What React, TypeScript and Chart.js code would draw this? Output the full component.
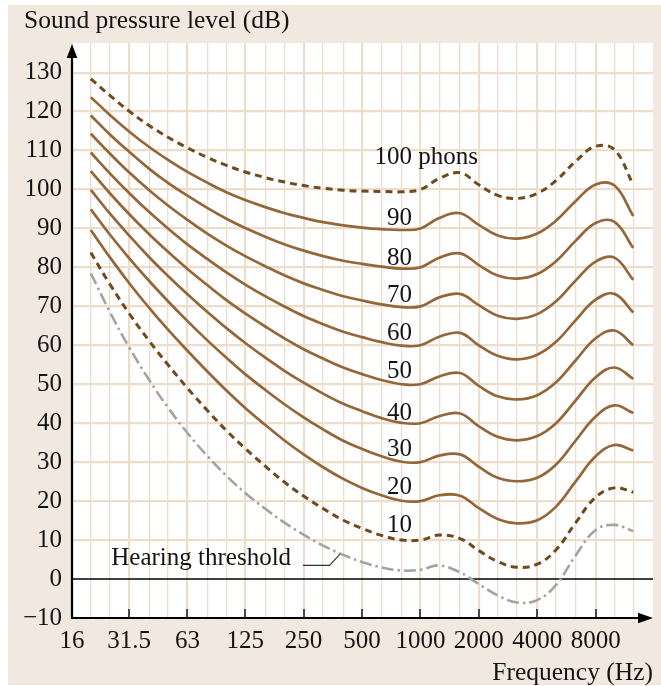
import { useEffect, useRef } from 'react';
import { Chart, registerables } from 'chart.js';

Chart.register(...registerables);

// Frequencies (Hz) of the data points (third-octave bands)
const frequencies = [20, 25, 31.5, 40, 50, 63, 80, 100, 125, 160, 200, 250, 315, 400, 500, 630, 800, 1000, 1250, 1600, 2000, 2500, 3150, 4000, 5000, 6300, 8000, 10000, 12500];

// Equal-loudness contours (dB SPL)
const phon100 = [128.4, 124.2, 120.1, 116.4, 113.4, 110.7, 108.2, 106.2, 104.5, 103.0, 101.9, 101.0, 100.3, 99.8, 99.6, 99.5, 99.4, 100.0, 102.8, 104.3, 101.2, 98.5, 97.7, 99.0, 102.3, 107.2, 111.1, 110.2, 101.2];
const phon90 = [123.7, 119.2, 114.9, 110.9, 107.6, 104.5, 101.7, 99.3, 97.3, 95.4, 93.9, 92.7, 91.6, 90.8, 90.2, 89.8, 89.6, 90.0, 92.7, 93.9, 90.9, 88.2, 87.4, 88.7, 92.0, 97.0, 101.3, 101.0, 93.2];
const phon80 = [119.0, 114.2, 109.7, 105.3, 101.7, 98.4, 95.2, 92.5, 90.1, 87.8, 85.9, 84.3, 82.9, 81.7, 80.9, 80.2, 79.7, 80.0, 82.5, 83.6, 80.6, 77.9, 77.1, 78.3, 81.6, 86.8, 91.4, 91.7, 85.0];
const phon70 = [114.3, 109.3, 104.4, 99.8, 95.9, 92.2, 88.6, 85.6, 82.9, 80.2, 77.9, 75.9, 74.2, 72.6, 71.5, 70.5, 69.8, 70.0, 72.3, 73.2, 70.3, 67.6, 66.8, 68.0, 71.3, 76.6, 81.5, 82.5, 76.8];
const phon60 = [109.5, 104.2, 99.1, 94.2, 90.0, 85.9, 82.1, 78.7, 75.6, 72.5, 69.9, 67.5, 65.4, 63.5, 62.1, 60.8, 59.9, 60.0, 62.2, 63.2, 60.0, 57.3, 56.4, 57.6, 60.9, 66.4, 71.7, 73.2, 68.4];
const phon50 = [104.7, 99.1, 93.7, 88.5, 84.0, 79.6, 75.4, 71.6, 68.2, 64.7, 61.7, 59.0, 56.6, 54.3, 52.6, 51.1, 50.0, 50.0, 52.0, 52.9, 49.6, 46.9, 46.1, 47.2, 50.5, 56.1, 61.8, 63.8, 60.0];
const phon40 = [99.9, 93.9, 88.2, 82.6, 77.8, 73.1, 68.5, 64.4, 60.6, 56.7, 53.4, 50.4, 47.6, 45.0, 43.1, 41.3, 40.1, 40.0, 41.8, 42.5, 39.2, 36.5, 35.6, 36.7, 40.0, 45.8, 51.8, 54.3, 51.4];
const phon30 = [94.9, 88.5, 82.4, 76.5, 71.3, 66.2, 61.2, 56.8, 52.6, 48.4, 44.8, 41.5, 38.4, 35.5, 33.4, 31.5, 30.1, 30.0, 31.7, 32.0, 28.8, 26.0, 25.1, 26.0, 29.4, 35.5, 41.7, 44.6, 42.6];
const phon20 = [89.6, 82.7, 76.0, 69.6, 64.0, 58.6, 53.2, 48.4, 43.9, 39.4, 35.5, 32.0, 28.7, 25.7, 23.4, 21.5, 20.1, 20.0, 21.5, 21.4, 18.2, 15.4, 14.3, 15.1, 18.6, 25.0, 31.5, 34.4, 33.0];
const phon10 = [83.8, 75.8, 68.2, 61.1, 55.0, 49.0, 43.2, 38.1, 33.5, 28.8, 24.8, 21.3, 18.1, 15.1, 13.0, 11.2, 10.0, 10.0, 11.3, 10.4, 7.3, 4.5, 3.0, 3.8, 7.5, 14.4, 21.0, 23.4, 22.3];
const hearingThreshold = [78.5, 68.7, 59.5, 51.1, 44.0, 37.5, 31.5, 26.5, 22.1, 17.9, 14.4, 11.4, 8.6, 6.2, 4.4, 3.0, 2.2, 2.4, 3.5, 1.7, -1.3, -4.2, -6.0, -5.4, -1.5, 6.0, 12.6, 13.9, 12.3];

// Axis ticks
const xGridValues = [16, 20, 25, 31.5, 40, 50, 63, 80, 100, 125, 160, 200, 250, 315, 400, 500, 630, 800, 1000, 1250, 1600, 2000, 2500, 3150, 4000, 5000, 6300, 8000, 10000, 12500];
const xTickLabels = ['16', '31.5', '63', '125', '250', '500', '1000', '2000', '4000', '8000'];
const yTickValues = [-10, 0, 10, 20, 30, 40, 50, 60, 70, 80, 90, 100, 110, 120, 130];

// Curve labels
const curveLabels = ['100', '90', '80', '70', '60', '50', '40', '30', '20', '10'];
const curveLabelDb = [108.6, 93.0, 82.9, 73.4, 63.6, 53.8, 43.1, 33.7, 24.0, 14.2];
const curveLabelFreq = 905;

const FONT = '"Liberation Serif", "Times New Roman", serif';
const TEXT = '#141414';
const SOLID = '#93673a';
const DASHED = '#6e4a1c';
const GRID = '#ecdecb';
const PANEL = '#f1e9df';
const FS = 25;

export default function App() {
  const ref = useRef<HTMLCanvasElement | null>(null);

  useEffect(() => {
    const canvas = ref.current;
    if (!canvas) return;

    const series = [
      { v: phon100, dash: true },
      { v: phon90 }, { v: phon80 }, { v: phon70 }, { v: phon60 }, { v: phon50 },
      { v: phon40 }, { v: phon30 }, { v: phon20 },
      { v: phon10, dash: true },
    ];

    const datasets: any[] = series.map((s: any) => ({
      data: frequencies.map((f, i) => ({ x: f, y: s.v[i] })),
      borderColor: s.dash ? DASHED : SOLID,
      borderWidth: s.dash ? 3 : 2.7,
      borderDash: s.dash ? [7, 5] : [],
      pointRadius: 0,
      tension: 0.4,
      fill: false,
    }));
    datasets.push({
      data: frequencies.map((f, i) => ({ x: f, y: hearingThreshold[i] })),
      borderColor: '#a3a3a3',
      borderWidth: 2.6,
      borderDash: [12, 4, 2.5, 4],
      pointRadius: 0,
      tension: 0.4,
      fill: false,
    });

    const bgPlugin = {
      id: 'bg',
      beforeDraw(chart: any) {
        const { ctx, chartArea: a, width, height } = chart;
        ctx.save();
        ctx.fillStyle = '#ffffff';
        ctx.fillRect(0, 0, width, height);
        ctx.fillStyle = PANEL;
        ctx.fillRect(8, 5, width - 8, height - 6);
        ctx.fillStyle = '#ffffff';
        ctx.fillRect(a.left, a.top, a.right - a.left, a.bottom - a.top);
        ctx.restore();
      },
      beforeDatasetsDraw(chart: any) {
        const { ctx, chartArea: a, scales } = chart;
        const y0 = scales.y.getPixelForValue(0);
        ctx.save();
        ctx.strokeStyle = '#000';
        ctx.lineWidth = 1.6;
        ctx.beginPath();
        ctx.moveTo(a.left, y0);
        ctx.lineTo(a.right, y0);
        ctx.stroke();
        ctx.restore();
      },
      afterDatasetsDraw(chart: any) {
        const { ctx, chartArea: a, scales } = chart;
        const xs = scales.x, ys = scales.y;
        ctx.save();
        // octave tick marks
        ctx.strokeStyle = '#4a4a4a';
        ctx.lineWidth = 2;
        xGridValues.forEach((v, i) => {
          if (i % 3 !== 0 || i === 0) return;
          const px = Math.round(xs.getPixelForValue(v));
          ctx.beginPath();
          ctx.moveTo(px, a.bottom - 9);
          ctx.lineTo(px, a.bottom);
          ctx.stroke();
        });
        // axes
        ctx.strokeStyle = '#000';
        ctx.fillStyle = '#000';
        ctx.lineWidth = 2.2;
        ctx.beginPath();
        ctx.moveTo(a.left, a.bottom + 1);
        ctx.lineTo(a.left, a.top + 8);
        ctx.moveTo(a.left - 1, a.bottom);
        ctx.lineTo(a.right - 8, a.bottom);
        ctx.stroke();
        ctx.beginPath();
        ctx.moveTo(a.left, a.top + 1);
        ctx.lineTo(a.left - 5.3, a.top + 15);
        ctx.lineTo(a.left + 5.3, a.top + 15);
        ctx.closePath();
        ctx.fill();
        ctx.beginPath();
        ctx.moveTo(a.right, a.bottom);
        ctx.lineTo(a.right - 15, a.bottom - 5.3);
        ctx.lineTo(a.right - 15, a.bottom + 5.3);
        ctx.closePath();
        ctx.fill();

        // curve labels
        ctx.font = `${FS}px ${FONT}`;
        ctx.fillStyle = TEXT;
        ctx.textBaseline = 'alphabetic';
        const lx = xs.getPixelForValue(curveLabelFreq);
        curveLabels.forEach((t, i) => {
          const cy = ys.getPixelForValue(curveLabelDb[i]) + 0.338 * FS;
          ctx.textAlign = 'right';
          ctx.fillText(t, lx, cy);
          if (i === 0) {
            ctx.textAlign = 'left';
            ctx.fillText(' phons', lx, cy);
          }
        });

        // hearing threshold label + leader
        ctx.textAlign = 'left';
        ctx.fillText('Hearing threshold', xs.getPixelForValue(25.5), ys.getPixelForValue(3.5));
        ctx.strokeStyle = '#333';
        ctx.lineWidth = 1.1;
        ctx.beginPath();
        ctx.moveTo(xs.getPixelForValue(248), ys.getPixelForValue(3.5));
        ctx.lineTo(xs.getPixelForValue(340), ys.getPixelForValue(3.5));
        ctx.lineTo(xs.getPixelForValue(385), ys.getPixelForValue(6.4));
        ctx.stroke();
        ctx.restore();
      },
      afterDraw(chart: any) {
        const { ctx, width } = chart;
        ctx.save();
        ctx.fillStyle = TEXT;
        ctx.font = `25.5px ${FONT}`;
        ctx.textBaseline = 'alphabetic';
        ctx.textAlign = 'left';
        ctx.fillText('Sound pressure level (dB)', 24, 28);
        ctx.textAlign = 'right';
        ctx.fillText('Frequency (Hz)', width - 8, 680);
        ctx.restore();
      },
    };

    const chart = new Chart(canvas, {
      type: 'line',
      data: { datasets },
      options: {
        animation: false,
        responsive: false,
        maintainAspectRatio: false,
        devicePixelRatio: 1,
        layout: { padding: { left: 0, right: 8, top: 43, bottom: 0 } },
        plugins: { legend: { display: false }, tooltip: { enabled: false } },
        scales: {
          x: {
            type: 'logarithmic',
            min: 16,
            max: 15800,
            afterBuildTicks: (s: any) => { s.ticks = xGridValues.map((v) => ({ value: v })); },
            afterFit: (s: any) => { s.height = 68; },
            border: { display: false },
            grid: {
              color: GRID,
              lineWidth: (c: any) => (c.index % 3 === 0 ? 2.2 : 1.3),
              drawTicks: false,
            },
            ticks: {
              autoSkip: false,
              maxRotation: 0,
              padding: 8,
              color: TEXT,
              font: { family: FONT, size: FS },
              callback: (_v: any, i: number) => (i % 3 === 0 ? xTickLabels[i / 3] : ''),
            },
          },
          y: {
            type: 'linear',
            min: -10,
            max: 137.6,
            afterBuildTicks: (s: any) => { s.ticks = yTickValues.map((v) => ({ value: v })); },
            afterFit: (s: any) => { s.width = 72; },
            border: { display: false },
            grid: {
              color: (c: any) => (c.tick && c.tick.value <= 0 ? 'rgba(0,0,0,0)' : GRID),
              lineWidth: 2.2,
              drawTicks: false,
            },
            ticks: {
              padding: 10,
              color: TEXT,
              font: { family: FONT, size: FS },
              callback: (v: any) => (v < 0 ? '\u2212' + Math.abs(v) : String(v)),
            },
          },
        },
      },
      plugins: [bgPlugin],
    });

    return () => chart.destroy();
  }, []);

  return (
    <div style={{ position: 'fixed', left: 0, top: 0, width: 661, height: 686 }}>
      <canvas ref={ref} width={661} height={686} style={{ width: 661, height: 686, display: 'block' }} />
    </div>
  );
}
